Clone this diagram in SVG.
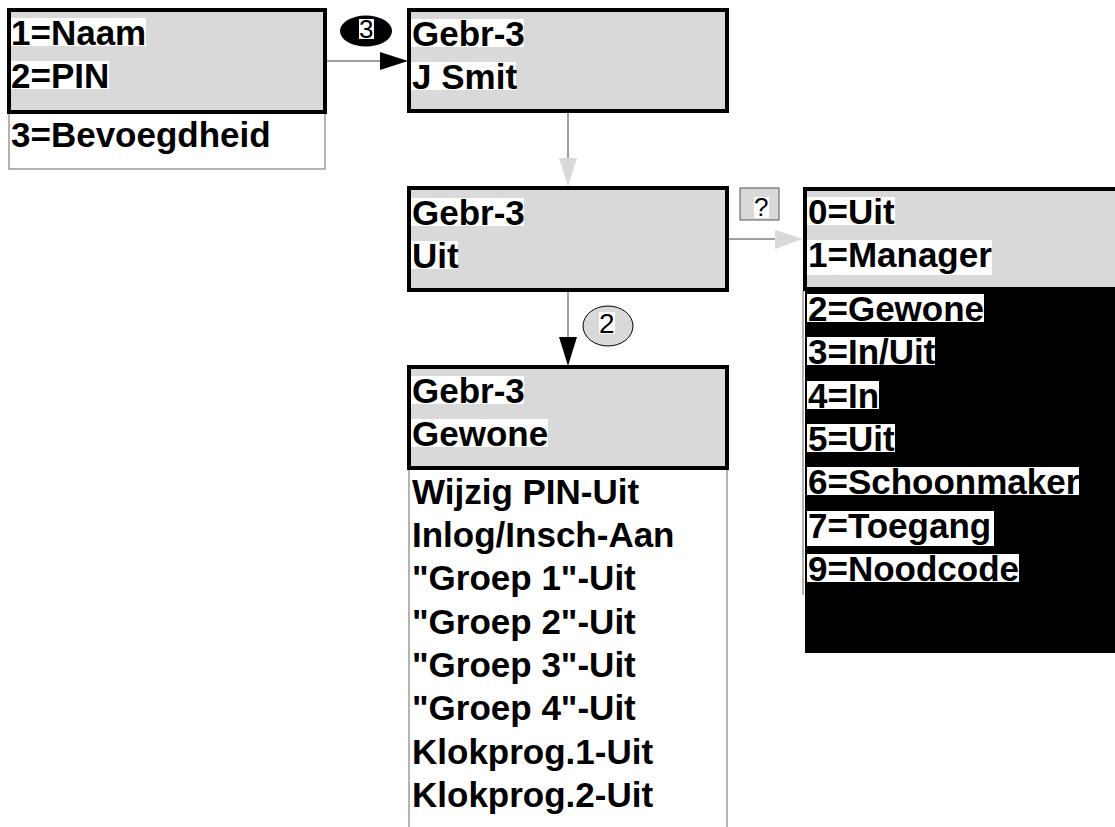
<svg xmlns="http://www.w3.org/2000/svg" width="1115" height="827" viewBox="0 0 1115 827">
<style>
.box{fill:#d9d9d9;stroke:#000;stroke-width:4}
.list{fill:#fff;stroke:#808080;stroke-width:1.2}
.thin{fill:none;stroke:#808080;stroke-width:1.2}
.t{font-family:"Liberation Sans",Arial,sans-serif;font-weight:bold;font-size:35px;fill:#000}
.s{font-family:"Liberation Sans",Arial,sans-serif;font-size:26px;fill:#000}
.hl{fill:#fff}
.con{stroke:#808080;stroke-width:1.5;fill:none}
.headB{fill:#000}
.headG{fill:#d9d9d9}
</style>
<rect x="0" y="0" width="1115" height="827" fill="#fff"/>

<g id="connectors">
  <line class="con" x1="327" y1="61" x2="380" y2="61"/>
  <polygon class="headB" points="380,52 408,61 380,70"/>
  <line class="con" x1="568" y1="112" x2="568" y2="158"/>
  <polygon class="headG" points="559,158 577,158 568,187"/>
  <line class="con" x1="728" y1="239" x2="775" y2="239"/>
  <polygon class="headG" points="775,230 803,239 775,249"/>
  <line class="con" x1="568" y1="290" x2="568" y2="337"/>
  <polygon class="headB" points="559,337 577,337 568,366"/>
  <g id="label-3">
    <ellipse cx="366" cy="31" rx="26" ry="15.5" fill="#000"/>
    <rect class="hl" x="359" y="19" width="15" height="20"/>
    <text class="s" x="359" y="38">3</text>
  </g>
  <g id="label-q">
    <rect x="740" y="188" width="39" height="32" fill="#d9d9d9" stroke="#555" stroke-width="1"/>
    <rect class="hl" x="754" y="197" width="15" height="21"/>
    <text class="s" x="754" y="216">?</text>
  </g>
  <g id="label-2">
    <ellipse cx="608" cy="326" rx="25" ry="20" fill="#d9d9d9" stroke="#000" stroke-width="1"/>
    <rect class="hl" x="599" y="312" width="16" height="22"/>
    <text class="s" x="599" y="333" style="font-size:28px">2</text>
  </g>
</g>

<g id="node-menu">
  <rect class="list" x="9" y="112" width="316" height="57"/>
  <rect class="box" x="9" y="10" width="316" height="102"/>
  <rect class="hl" x="11" y="18" width="135" height="28"/>
  <rect class="hl" x="11" y="61" width="98" height="28"/>
  <text class="t" x="11" y="45">1=Naam</text>
  <text class="t" x="11" y="88">2=PIN</text>
  <text class="t" x="11" y="147">3=Bevoegdheid</text>
</g>

<g id="node-name">
  <rect class="box" x="409" y="10" width="318" height="101"/>
  <rect class="hl" x="411" y="19" width="113" height="28"/>
  <rect class="hl" x="411" y="62" width="105" height="28"/>
  <text class="t" x="412" y="46">Gebr-3</text>
  <text class="t" x="412" y="89">J Smit</text>
</g>

<g id="node-uit">
  <rect class="box" x="409" y="188" width="318" height="102"/>
  <rect class="hl" x="411" y="198" width="113" height="28"/>
  <rect class="hl" x="411" y="241" width="47" height="28"/>
  <text class="t" x="412" y="225">Gebr-3</text>
  <text class="t" x="412" y="268">Uit</text>
</g>

<g id="node-options">
  <line class="thin" x1="803" y1="291" x2="803" y2="595"/>
  <rect x="805" y="291" width="315" height="362" fill="#000"/>
  <rect class="box" x="805" y="189" width="320" height="100"/>
  <rect class="hl" x="807" y="197" width="88" height="28"/>
  <rect class="hl" x="807" y="240" width="185" height="35"/>
  <text class="t" x="808" y="224">0=Uit</text>
  <text class="t" x="808" y="267">1=Manager</text>
  <rect class="hl" x="807" y="294" width="177" height="28"/>
  <rect class="hl" x="807" y="337" width="128" height="28"/>
  <rect class="hl" x="807" y="381" width="72" height="28"/>
  <rect class="hl" x="807" y="424" width="88" height="28"/>
  <rect class="hl" x="807" y="467" width="272" height="28"/>
  <rect class="hl" x="807" y="511" width="187" height="35"/>
  <rect class="hl" x="807" y="554" width="212" height="28"/>
  <text class="t" x="808" y="321">2=Gewone</text>
  <text class="t" x="808" y="364">3=In/Uit</text>
  <text class="t" x="808" y="408">4=In</text>
  <text class="t" x="808" y="451">5=Uit</text>
  <text class="t" x="808" y="494">6=Schoonmaker</text>
  <text class="t" x="808" y="538">7=Toegang</text>
  <text class="t" x="808" y="581">9=Noodcode</text>
</g>

<g id="node-gewone">
  <line class="thin" x1="409" y1="468" x2="409" y2="827"/>
  <line class="thin" x1="727" y1="468" x2="727" y2="827"/>
  <rect class="box" x="409" y="367" width="318" height="101"/>
  <rect class="hl" x="411" y="376" width="113" height="28"/>
  <rect class="hl" x="411" y="419" width="137" height="28"/>
  <text class="t" x="412" y="403">Gebr-3</text>
  <text class="t" x="412" y="446">Gewone</text>
  <text class="t" x="412" y="504">Wijzig PIN-Uit</text>
  <text class="t" x="412" y="547">Inlog/Insch-Aan</text>
  <text class="t" x="412" y="590">"Groep 1"-Uit</text>
  <text class="t" x="412" y="634">"Groep 2"-Uit</text>
  <text class="t" x="412" y="677">"Groep 3"-Uit</text>
  <text class="t" x="412" y="720">"Groep 4"-Uit</text>
  <text class="t" x="412" y="764">Klokprog.1-Uit</text>
  <text class="t" x="412" y="807">Klokprog.2-Uit</text>
</g>
</svg>
